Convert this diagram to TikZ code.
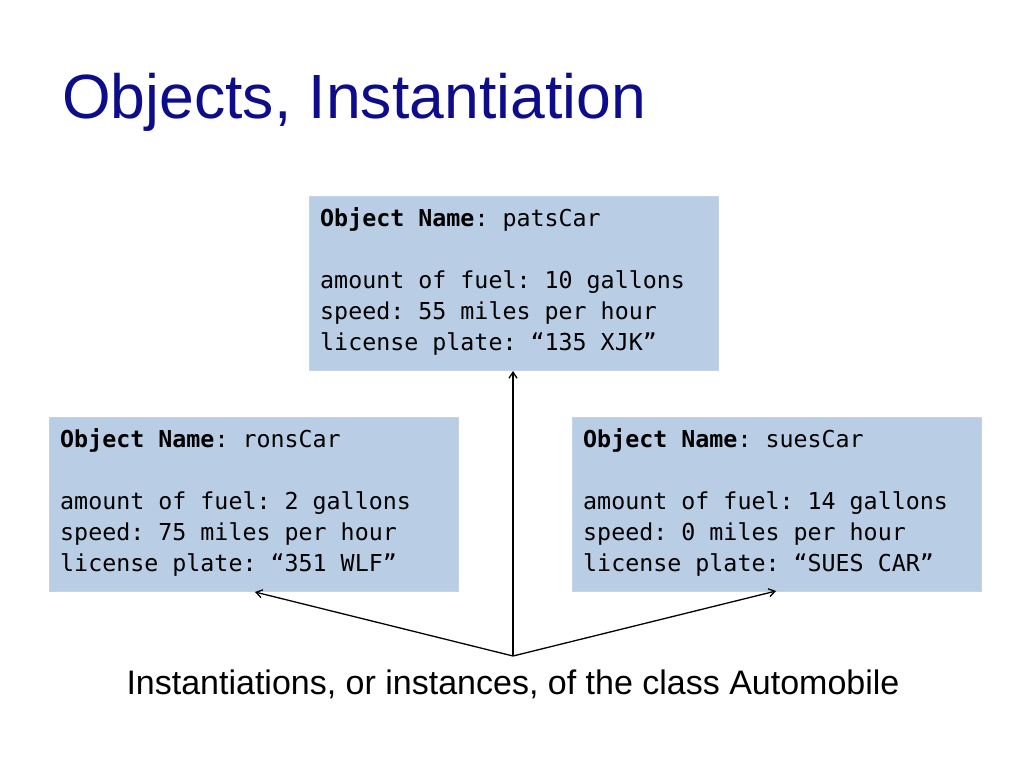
\documentclass[tikz,border=0pt]{standalone}
\usepackage{fontspec}
\setmainfont{Liberation Sans}
\setmonofont{DejaVu Sans Mono}
\usetikzlibrary{arrows.meta}
\definecolor{boxfill}{HTML}{B9CDE5}
\definecolor{titleblue}{HTML}{0D0D8C}
\tikzset{
  objbox/.style={fill=boxfill, draw=boxfill!85!white, anchor=north west, minimum width=409pt, minimum height=174pt, inner sep=0pt},
  objtext/.style={anchor=north west, align=left, font=\fontsize{23.3}{31}\selectfont\ttfamily, inner sep=0pt},
  arr/.style={line width=1.3pt, -{Straight Barb[length=6pt,width=8pt]}}
}
\begin{document}
\begin{tikzpicture}[x=1pt,y=-1pt]
\useasboundingbox (0,0) rectangle (1024,768);
\node[anchor=base west, text=titleblue, font=\fontsize{62.5}{70}\selectfont, inner sep=0pt] (title) at (62,118) {Objects, Instantiation};
\node[objbox] (pat) at (309,196) {};
\node[objbox] (ron) at (49,417) {};
\node[objbox] (sue) at (572,417) {};
\node[objtext] (pt) at (320,207) {\textbf{Object Name}: patsCar\\[31pt]amount of fuel: 10 gallons\\speed: 55 miles per hour\\license plate: “135 XJK”};
\node[objtext] (rt) at (60,428) {\textbf{Object Name}: ronsCar\\[31pt]amount of fuel: 2 gallons\\speed: 75 miles per hour\\license plate: “351 WLF”};
\node[objtext] (st) at (583,428) {\textbf{Object Name}: suesCar\\[31pt]amount of fuel: 14 gallons\\speed: 0 miles per hour\\license plate: “SUES CAR”};
\node[anchor=base, font=\fontsize{34}{40}\selectfont, inner sep=0pt] (cap) at (513,694) {Instantiations, or instances, of the class Automobile};
\coordinate (src) at (513,656);
\coordinate (pe) at (513,371);
\coordinate (re) at (255,592);
\coordinate (se) at (776,591);
\draw[arr] (src) -- (pe);
\draw[arr] (src) -- (re);
\draw[arr] (src) -- (se);
\end{tikzpicture}
\end{document}
